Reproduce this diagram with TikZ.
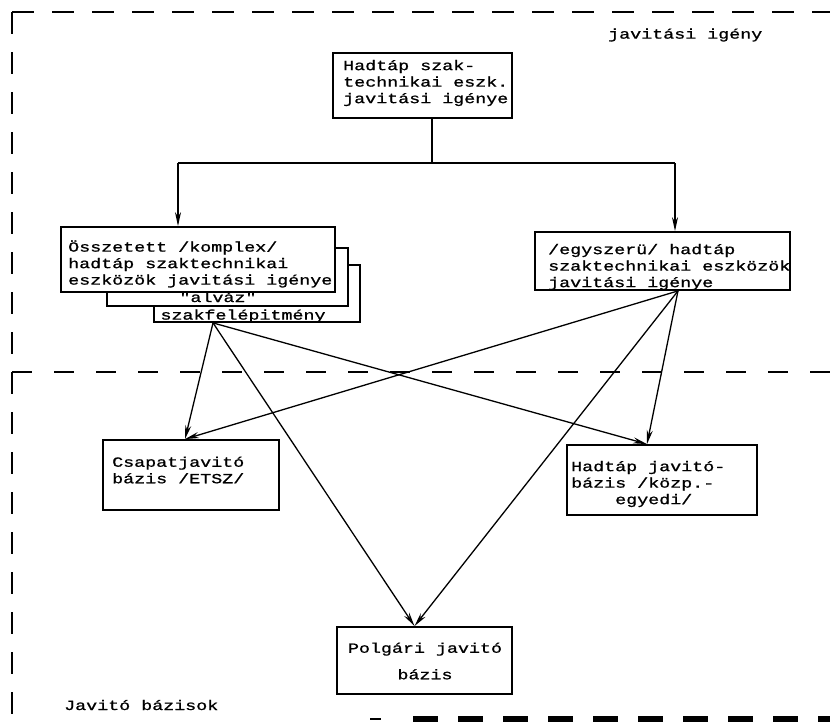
\documentclass[tikz,border=0pt]{standalone}
\usepackage{fontspec}
\usetikzlibrary{arrows.meta}
\newfontfamily\tw[FakeStretch=1.31,FakeBold=1]{Liberation Mono}
\tikzset{
  box/.style={draw, line width=1.8pt, fill=white, inner sep=0pt},
  txt/.style={inner sep=0pt, align=left, font={\tw\fontsize{14}{16.5}\selectfont}},
  link/.style={line width=1.4pt},
  conn/.style={line width=1.3pt, -{Stealth[length=14pt,width=6pt]}},
  frameline/.style={line width=2.6pt, dash pattern=on 22pt off 18pt},
}
\begin{document}
\begin{tikzpicture}[x=1pt,y=-1pt]
\useasboundingbox (0,0) rectangle (830,728);
\fill[white] (0,0) rectangle (830,728);

% frame lines
\draw[frameline] (12,12) -- (830,12);
\draw[frameline] (12,12) -- (12,728);
\draw[line width=2.2pt, dash pattern=on 20pt off 22pt] (12,372) -- (830,372);
\draw[line width=2pt] (370,719) -- (381,719);
\draw[line width=6pt, dash pattern=on 25pt off 20pt] (413,719) -- (830,719);

% boxes
\node[box, minimum width=179pt, minimum height=65pt] (top) at (422.5,85.5) {};
\node[box, minimum width=206pt, minimum height=57pt] (back) at (257,293.5) {};
\node[box, minimum width=241pt, minimum height=58pt] (mid) at (227.5,277) {};
\node[box, minimum width=274pt, minimum height=65pt] (front) at (198,259.5) {};
\node[box, minimum width=255pt, minimum height=58pt] (right) at (662.5,261) {};
\node[box, minimum width=176pt, minimum height=70pt] (csapat) at (191,475) {};
\node[box, minimum width=190pt, minimum height=70pt] (hj) at (662,480) {};
\node[box, minimum width=175pt, minimum height=67pt] (pol) at (424.5,660.5) {};

% texts
\node[txt, anchor=west] (tigeny) at (608,35) {javitási igény};
\node[txt, anchor=west] (ttop) at (343,83) {Hadtáp szak-\\technikai eszk.\\javitási igénye};
\node[txt, anchor=west] (tfront) at (68,264) {Összetett /komplex/\\hadtáp szaktechnikai\\eszközök javitási igénye};
\node[txt] (talv) at (218,297) {"alváz"};
\node[txt] (tszak) at (243,316) {szakfelépitmény};
\node[txt, anchor=west] (tright) at (548,267) {/egyszerü/ hadtáp\\szaktechnikai eszközök\\javitási igénye};
\node[txt, anchor=west] (tcsap) at (112,470) {Csapatjavitó\\bázis /ETSZ/};
\node[txt, anchor=west] (thj) at (571,484) {Hadtáp javitó-\\bázis /közp.-\\\hspace*{44pt}egyedi/};
\node[txt, align=center] (tpol) at (425,661) {Polgári javitó\\[10pt]bázis};
\node[txt, anchor=west] (tjav) at (64,705) {Javitó bázisok};

% top connectors
\coordinate (j) at (432,163);
\coordinate (hl) at (178,163);
\coordinate (hr) at (675,163);
\draw[link] (top.south -| j) -- (j);
\draw[link] (hl) -- (hr);
\draw[conn] (hl) -- (hl |- front.north);
\draw[conn] (hr) -- (hr |- right.north);

% lower connectors
\path (back.south) ++(-44,0) coordinate (la);
\path (right.south) ++(15.5,0) coordinate (ra);
\draw[conn] (la) -- ([xshift=-6pt]csapat.north);
\draw[conn] (la) -- ([xshift=-15pt]hj.north);
\draw[conn] (la) -- ([xshift=-10pt]pol.north);
\draw[conn] (ra) -- ([xshift=-6pt]csapat.north);
\draw[conn] (ra) -- ([xshift=-15pt]hj.north);
\draw[conn] (ra) -- ([xshift=-10pt]pol.north);
\end{tikzpicture}
\end{document}
